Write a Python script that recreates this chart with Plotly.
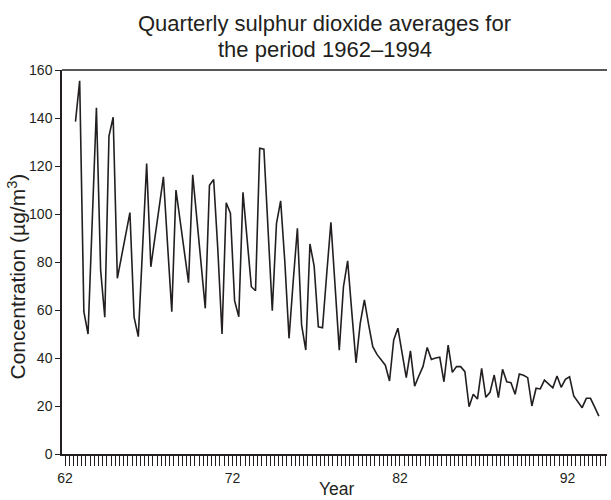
import plotly.graph_objects as go

# Quarterly SO2 averages (µg/m3), starting 1962 Q3
start_year = 62.625
step = 0.25
so2 = [
    138.5, 155.5, 59.3, 50.0, 97.0, 144.3, 76.7, 57.0, 132.5, 140.3,
    73.2, 82.0, 91.0, 100.6, 57.0, 48.9, 85.0, 121.0, 78.0, 90.5,
    103.0, 115.5, 87.0, 59.3, 110.0, 97.0, 84.0, 71.4, 116.3, 97.8,
    79.3, 60.7, 112.0, 114.4, 85.0, 50.0, 104.7, 100.3, 63.9, 57.2,
    109.0, 88.0, 69.7, 68.0, 127.4, 127.0, 93.0, 59.7, 96.0, 105.5,
    80.0, 48.2, 72.0, 94.0, 53.8, 43.3, 87.5, 78.3, 53.0, 52.6,
    75.0, 96.5, 70.0, 43.3, 69.7, 80.5, 59.0, 38.0, 54.4, 64.2,
    54.0, 44.7, 41.5, 39.0, 37.0, 30.4, 47.5, 52.4, 42.0, 31.8,
    43.0, 28.3, 32.5, 36.5, 44.4, 39.4, 40.0, 40.3, 30.1, 45.4,
    34.0, 36.4, 36.4, 34.3, 19.7, 24.9, 22.9, 35.7, 23.6, 25.7,
    32.9, 23.5, 35.3, 30.1, 29.7, 24.9, 33.3, 32.8, 31.8, 20.0,
    27.4, 27.1, 30.8, 29.2, 27.6, 32.5, 27.8, 31.1, 32.2, 24.2,
    21.7, 19.3, 23.2, 23.2, 19.5, 15.8,
]
years = [start_year + step * i for i in range(len(so2))]

x_label_years = [62, 72, 82, 92]
x_label_text = ["62", "72", "82", "92"]
y_tick_vals = [0, 20, 40, 60, 80, 100, 120, 140, 160]

title_lines = ["Quarterly sulphur dioxide averages for", "the period 1962\u20131994"]
x_title = "Year"
y_title = "Concentration (\u00b5g/m<sup>3</sup>)"

x_range = [61.82, 94.36]

# quarterly tick marks across the axis, labels only at the decade years
quarter_ticks = []
q = 62.0
while q <= x_range[1]:
    quarter_ticks.append(round(q, 2))
    q += step
quarter_text = [x_label_text[x_label_years.index(v)] if v in x_label_years else ""
                for v in quarter_ticks]

ink = "#231f20"
font_family = "Liberation Sans, Arial, Helvetica, sans-serif"

# plot area geometry in pixels (for placing annotations)
L, T, W, H = 62, 70, 545, 384


def px_x(x):
    return (x - L) / W


def px_y(y):
    return (T + H - y) / H


fig = go.Figure()
fig.add_trace(go.Scatter(
    x=years, y=so2, mode="lines",
    line=dict(color=ink, width=1.6),
    hoverinfo="x+y", showlegend=False,
))

fig.update_layout(
    width=611, height=500,
    margin=dict(l=L, r=611 - L - W, t=T, b=500 - T - H, autoexpand=False),
    paper_bgcolor="white", plot_bgcolor="white",
    font=dict(family=font_family, color=ink, size=14),
    xaxis=dict(
        range=x_range, showgrid=False, zeroline=False,
        showline=True, linecolor=ink, linewidth=1.5,
        tickmode="array", tickvals=quarter_ticks, ticktext=quarter_text,
        ticks="outside", ticklen=10, tickwidth=1, tickcolor=ink,
        tickfont=dict(size=14, color=ink),
        automargin=False,
    ),
    yaxis=dict(
        range=[0, 160], showgrid=False, zeroline=False,
        showline=True, linecolor=ink, linewidth=1.5,
        tickmode="array", tickvals=y_tick_vals,
        ticks="outside", ticklen=5, tickwidth=1, tickcolor=ink,
        tickfont=dict(size=14, color=ink),
        automargin=False,
    ),
    shapes=[dict(type="line", xref="paper", yref="paper",
                 x0=0, x1=1, y0=1, y1=1,
                 line=dict(color=ink, width=1.5))],
    annotations=[
        dict(text=title_lines[0], xref="paper", yref="paper",
             x=px_x(324.5), y=px_y(23.5),
             xanchor="center", yanchor="middle", showarrow=False,
             font=dict(size=22, color=ink)),
        dict(text=title_lines[1], xref="paper", yref="paper",
             x=px_x(324.5), y=px_y(49.5),
             xanchor="center", yanchor="middle", showarrow=False,
             font=dict(size=22, color=ink)),
        dict(text=x_title, xref="paper", yref="paper",
             x=px_x(337.5), y=px_y(499.5),
             xanchor="center", yanchor="bottom", showarrow=False,
             borderpad=0,
             font=dict(size=17.5, color=ink)),
        dict(text=y_title, xref="paper", yref="paper",
             x=px_x(16), y=px_y(276.5),
             xanchor="center", yanchor="middle", showarrow=False,
             textangle=-90, font=dict(size=21, color=ink)),
    ],
)

fig.write_html("out.html")
